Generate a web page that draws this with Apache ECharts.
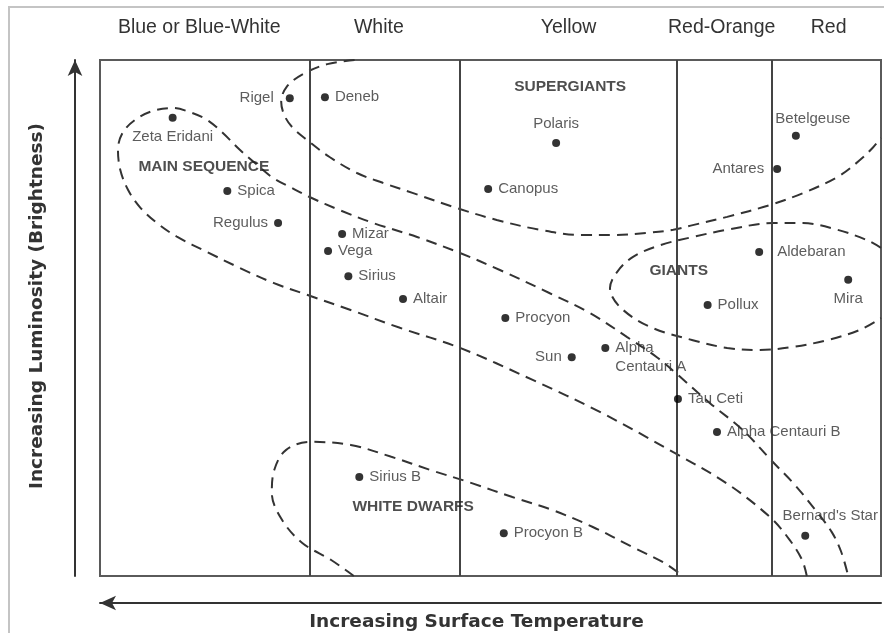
<!DOCTYPE html>
<html><head><meta charset="utf-8">
<script src="https://cdn.jsdelivr.net/npm/echarts@6/dist/echarts.min.js"></script>
<style>
html,body{margin:0;padding:0;background:#fff;}
#frame{position:absolute;left:8px;top:6px;width:876px;height:627px;border-left:2px solid #c4c4c4;border-top:2px solid #c4c4c4;}
#chart{position:absolute;left:0;top:0;width:884px;height:633px;}
</style></head><body>
<div id="frame"></div>
<div id="chart"></div>
<script>
// ---- data (arbitrary 0-100 units: x = position across temperature classes, y = luminosity) ----
const colorClasses = ['Blue or Blue-White', 'White', 'Yellow', 'Red-Orange', 'Red'];
const classLabelX  = [12.7, 35.7, 60.0, 79.6, 93.3];
const classBorders = [26.8, 46.1, 73.8, 86.0];

const starNames = ['Rigel','Deneb','Zeta Eridani','Spica','Regulus','Mizar','Vega','Sirius','Altair',
  'Polaris','Canopus','Procyon','Sun','Alpha Centauri A','Tau Ceti','Alpha Centauri B',
  'Betelgeuse','Antares','Aldebaran','Mira','Pollux','Sirius B','Procyon B',"Bernard's Star"];
const starX = [24.3, 28.8, 9.3, 16.3, 22.8, 31.0, 29.2, 31.8, 38.8,
  58.4, 49.7, 51.9, 60.4, 64.7, 74.0, 79.0,
  89.1, 86.7, 84.4, 95.8, 77.8, 33.2, 51.7, 90.3];
const starY = [92.6, 92.8, 88.8, 74.6, 68.4, 66.3, 63.0, 58.1, 53.7,
  83.9, 75.0, 50.0, 42.4, 44.2, 34.3, 27.9,
  85.3, 78.9, 62.8, 57.4, 52.5, 19.2, 8.3, 7.8];

const regionNames = ['MAIN SEQUENCE', 'SUPERGIANTS', 'GIANTS', 'WHITE DWARFS'];
const regionX = [13.3, 60.2, 74.1, 40.1];
const regionY = [79.3, 94.8, 59.1, 13.4];

const mainSequenceX = [90.5, 89.9, 88.3, 85.8, 80.2, 73.4, 64.0, 55.4, 46.1, 38.4, 32.0, 26.5, 22.2, 17.9, 13.7, 9.9, 7.3, 5.1, 3.6, 2.6, 2.3, 2.9, 4.5, 6.7, 9.3, 11.5, 13.7, 15.7, 17.9, 20.1, 22.2, 24.3, 26.9, 30.7, 35.0, 40.6, 46.1, 51.2, 57.6, 62.7, 67.5, 71.3, 73.9, 78.1, 82.3, 85.9, 89.0, 91.8, 93.7, 94.9, 95.8];
const mainSequenceY = [0, 3.1, 7.0, 11.4, 18.0, 24.0, 31.8, 38.0, 44.2, 48.1, 51.6, 54.5, 56.8, 59.7, 62.8, 65.7, 68.4, 71.5, 74.8, 78.7, 82.6, 85.9, 88.4, 90.1, 90.7, 89.9, 88.4, 85.9, 82.6, 79.7, 77.1, 75.4, 73.4, 70.9, 68.4, 65.7, 62.6, 59.3, 54.8, 51.0, 46.3, 42.4, 39.1, 33.5, 28.3, 22.5, 17.6, 12.4, 8.5, 4.7, 0];

const superGiantsX = [32.6, 29.1, 26.0, 23.9, 23.2, 23.6, 24.6, 26.5, 29.4, 32.9, 36.2, 40.1, 45.7, 50.8, 56.3, 61.5, 65.7, 70.0, 73.4, 75.9, 80.3, 85.8, 90.0, 94.4, 97.3, 99.0, 100];
const superGiantsY = [100, 99.2, 97.3, 94.8, 91.9, 89.3, 87.0, 84.5, 81.2, 78.1, 76.2, 74.2, 71.3, 69.0, 67.1, 66.1, 66.1, 66.5, 67.1, 68.0, 69.6, 71.9, 74.2, 77.3, 80.6, 83.1, 84.9];

const giantsX = [100, 98.2, 94.4, 90.0, 86.2, 80.3, 75.9, 71.7, 68.2, 66.2, 65.3, 66.6, 70.4, 75.9, 80.3, 84.5, 88.7, 93.1, 97.3, 100];
const giantsY = [63.6, 65.1, 67.1, 68.4, 68.4, 67.1, 65.7, 64.1, 61.8, 58.9, 55.8, 52.1, 48.3, 45.7, 44.2, 43.8, 44.4, 45.7, 47.7, 50.0];

const whiteDwarfsX = [32.5, 29.6, 25.9, 23.3, 22.0, 22.3, 23.8, 26.9, 32.1, 37.3, 42.4, 47.6, 52.8, 57.9, 63.1, 68.2, 72.3, 74.6];
const whiteDwarfsY = [0, 3.1, 6.4, 10.9, 16.1, 20.5, 24.4, 26.0, 25.4, 23.1, 20.5, 18.0, 15.3, 12.8, 9.5, 5.6, 2.5, 0];

// ---- label styling ----
const labelSide = {'Rigel':'left','Deneb':'right','Zeta Eridani':'bottom','Spica':'right','Regulus':'left',
  'Mizar':'right','Vega':'right','Sirius':'right','Altair':'right','Polaris':'top','Canopus':'right',
  'Procyon':'right','Sun':'left','Alpha Centauri A':'right','Tau Ceti':'right','Alpha Centauri B':'right',
  'Betelgeuse':'top','Antares':'left','Aldebaran':'right','Mira':'bottom','Pollux':'right',
  'Sirius B':'right','Procyon B':'right',"Bernard's Star":'top'};
const labelShift = {'Betelgeuse':[17,3],"Bernard's Star":[25,0],'Alpha Centauri A':[0,9]};
const labelDist = {'Rigel':12,'Aldebaran':14,'Antares':9};
const labelText = {'Alpha Centauri A':'Alpha\nCentauri A'};

const zip = (xs, ys) => xs.map((x, i) => [x, ys[i]]);

const starData = starNames.map((n, i) => ({
  name: n,
  value: [starX[i], starY[i]],
  label: {
    position: labelSide[n],
    distance: labelDist[n] || 6,
    offset: labelShift[n] || [0, 0],
    formatter: labelText[n] || n
  }
}));

const curveStyle = {color: '#333', width: 2, type: [11, 7]};
function curve(name, xs, ys) {
  return {
    type: 'line', name: name, data: zip(xs, ys), smooth: 0.35, symbol: 'none',
    lineStyle: curveStyle, silent: true, z: 3
  };
}

const chart = echarts.init(document.getElementById('chart'), null, {renderer: 'canvas'});
chart.setOption({
  animation: false,
  grid: {left: 100, top: 60, right: 3, bottom: 57, show: true, borderColor: '#5a5a5a', borderWidth: 2,
         containLabel: false, outerBoundsMode: 'none'},
  xAxis: [{
    type: 'value', min: 0, max: 100, position: 'bottom', offset: 27,
    axisLine: {show: true, onZero: false, symbol: ['arrow', 'none'], symbolSize: [11, 16], lineStyle: {color: '#333', width: 2}},
    axisTick: {show: false}, axisLabel: {show: false}, splitLine: {show: false},
    name: 'Increasing Surface Temperature', nameLocation: 'middle', nameGap: 10,
    nameTextStyle: {fontFamily: 'DejaVu Sans', fontWeight: 'bold', fontSize: 18.5, color: '#333', padding: [0, 28, 0, 0]}
  }, {
    type: 'value', min: 0, max: 100, position: 'top',
    axisLine: {show: false}, axisTick: {show: false}, splitLine: {show: false},
    axisLabel: {
      show: true, customValues: classLabelX, margin: 22,
      fontFamily: 'Liberation Sans', fontSize: 19.5, color: '#333',
      formatter: v => colorClasses[classLabelX.indexOf(v)]
    }
  }],
  yAxis: {
    type: 'value', min: 0, max: 100, offset: 25,
    axisLine: {show: true, onZero: false, symbol: ['none', 'arrow'], symbolSize: [11, 16], lineStyle: {color: '#333', width: 2}},
    axisTick: {show: false}, axisLabel: {show: false}, splitLine: {show: false},
    name: 'Increasing Luminosity (Brightness)', nameLocation: 'middle', nameGap: 28, nameRotate: 90,
    nameTextStyle: {fontFamily: 'DejaVu Sans', fontWeight: 'bold', fontSize: 18.5, color: '#333', padding: [0, 0, 0, 24]}
  },
  series: [
    curve('Main Sequence', mainSequenceX, mainSequenceY),
    curve('Supergiants', superGiantsX, superGiantsY),
    curve('Giants', giantsX, giantsY),
    curve('White Dwarfs', whiteDwarfsX, whiteDwarfsY),
    {
      type: 'scatter', name: 'Stars', data: starData, symbolSize: 8, z: 5,
      itemStyle: {color: '#000'},
      label: {show: true, fontFamily: 'Liberation Sans', fontSize: 15, color: '#333', lineHeight: 19},
      markLine: {
        silent: true, symbol: ['none', 'none'], label: {show: false},
        lineStyle: {type: 'solid', color: '#444', width: 2},
        data: classBorders.map(v => ({xAxis: v}))
      }
    },
    {
      type: 'scatter', name: 'Regions', data: zip(regionX, regionY).map((p, i) => ({name: regionNames[i], value: p})),
      symbolSize: 1, itemStyle: {color: 'rgba(0,0,0,0)'}, z: 6,
      label: {show: true, position: 'inside', formatter: '{b}', fontFamily: 'Liberation Sans', fontWeight: 'bold', fontSize: 15.5, color: '#222'}
    }
  ]
});
</script>
</body></html>
